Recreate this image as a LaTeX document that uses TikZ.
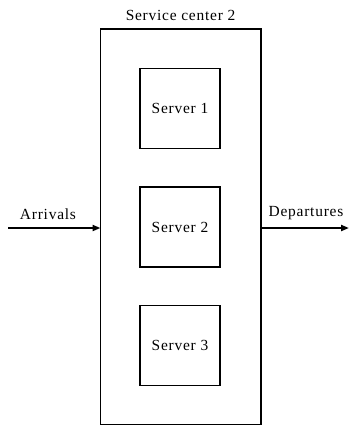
\documentclass[tikz,border=0pt]{standalone}
\usepackage{fontspec}
\setmainfont{Liberation Serif}[LetterSpace=5]
\usetikzlibrary{arrows.meta}
\begin{document}
\begin{tikzpicture}[x=1bp,y=-1bp,
  every node/.style={font=\fontsize{15.5}{18}\selectfont, inner sep=0pt},
  center/.style={draw, line width=1.2bp},
  serverbox/.style={draw, line width=1.2bp, minimum width=80bp, minimum height=80bp},
  flow/.style={line width=2bp, -{Triangle[length=8bp,width=6bp]}}]
\useasboundingbox (0,0) rectangle (350,426);
% enclosing service center
\draw[center] (100.5,29) rectangle (261,424.5);
\coordinate (cl) at (100.5,228);
\coordinate (cr) at (261,228);
\node at (180.5,15) {Service center 2};
% the three servers
\node[serverbox] (s1) at (180,108.5) {Server 1};
\node[serverbox] (s2) at (180,227) {Server 2};
\node[serverbox] (s3) at (180,345.5) {Server 3};
% arrivals and departures
\coordinate (in) at (8,228);
\coordinate (out) at (349,228);
\draw[flow] (in) -- (cl);
\draw[flow] (cr) -- (out);
\node at (48,214) {Arrivals};
\node at (306,213) {Departures};
\end{tikzpicture}
\end{document}
